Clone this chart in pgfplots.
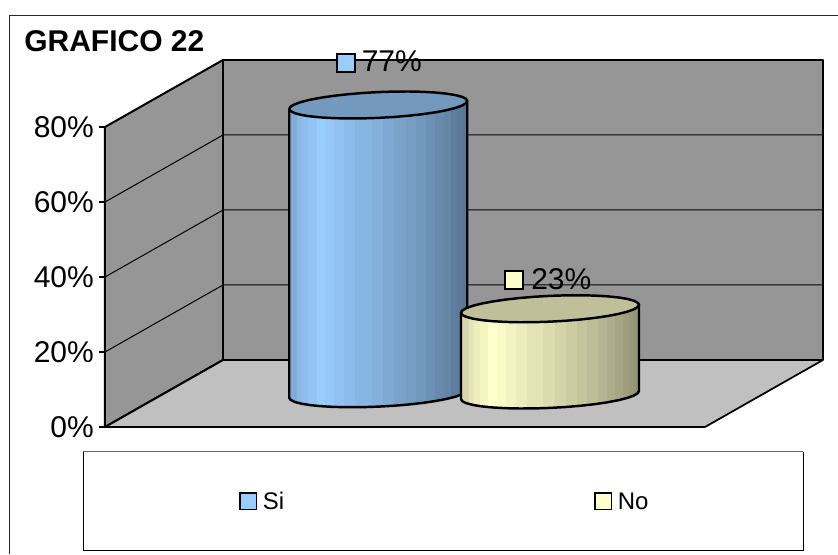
\documentclass[border=0pt]{standalone}
\usepackage{pgfplots}
\usepackage{pgfplotstable}
\usepackage{fontspec}
\setmainfont{Liberation Sans}
\pgfplotsset{compat=1.18}

% One drawing unit is 0.75pt; y is in percent, 1 percent = 3.75 units.
\newcommand{\unitpt}{0.75pt}
\definecolor{wallgray}{HTML}{969696}
\definecolor{floorgray}{HTML}{C0C0C0}
\definecolor{siblue}{HTML}{99CCFF}
\definecolor{sitop}{HTML}{7399BF}
\definecolor{noyellow}{HTML}{FFFFCC}
\definecolor{notop}{HTML}{BFBF99}

% Vertical facets of a cylinder, from the left edge to the right edge
\newcommand{\facetcolors}[2]{%
  \colorlet{#1a}{#2!84!black}\colorlet{#1b}{#2!90!black}\colorlet{#1c}{#2!93!black}%
  \colorlet{#1d}{#2!96!black}\colorlet{#1e}{#2}\colorlet{#1f}{#2!98!black}%
  \colorlet{#1g}{#2!95!black}\colorlet{#1h}{#2!92!black}\colorlet{#1i}{#2!89!black}%
  \colorlet{#1j}{#2!86!black}\colorlet{#1k}{#2!83!black}\colorlet{#1l}{#2!80!black}%
  \colorlet{#1m}{#2!77!black}\colorlet{#1n}{#2!74!black}\colorlet{#1o}{#2!71!black}%
  \colorlet{#1p}{#2!68!black}\colorlet{#1q}{#2!65!black}\colorlet{#1r}{#2!62!black}%
  \colorlet{#1s}{#2!60!black}\colorlet{#1t}{#2!58!black}}
\facetcolors{si}{siblue}
\facetcolors{no}{noyellow}

\newcommand{\declarefacets}[1]{%
  \pgfdeclarehorizontalshading{#1body}{100bp}{%
    color(0bp)=(#1a); color(27.08bp)=(#1a);
    color(27.09bp)=(#1b); color(28.49bp)=(#1b);
    color(28.50bp)=(#1c); color(30.19bp)=(#1c);
    color(30.20bp)=(#1d); color(32.55bp)=(#1d);
    color(32.56bp)=(#1e); color(34.91bp)=(#1e);
    color(34.92bp)=(#1f); color(37.55bp)=(#1f);
    color(37.56bp)=(#1g); color(40.28bp)=(#1g);
    color(40.29bp)=(#1h); color(43.40bp)=(#1h);
    color(43.41bp)=(#1i); color(47.92bp)=(#1i);
    color(47.93bp)=(#1j); color(51.23bp)=(#1j);
    color(51.24bp)=(#1k); color(54.25bp)=(#1k);
    color(54.26bp)=(#1l); color(57.55bp)=(#1l);
    color(57.56bp)=(#1m); color(60.38bp)=(#1m);
    color(60.39bp)=(#1n); color(63.21bp)=(#1n);
    color(63.22bp)=(#1o); color(65.75bp)=(#1o);
    color(65.76bp)=(#1p); color(68.21bp)=(#1p);
    color(68.22bp)=(#1q); color(70.28bp)=(#1q);
    color(70.29bp)=(#1r); color(71.98bp)=(#1r);
    color(71.99bp)=(#1s); color(73.58bp)=(#1s);
    color(73.59bp)=(#1t); color(100bp)=(#1t)}}
\declarefacets{si}
\declarefacets{no}

% Outline of a cylinder's side: h=0 on the base, h=1 on the top; (u,w) on the unit ellipse
\pgfplotstableread{
u w h
-1 0 1
-1 0 0
-0.9848 -0.1736 0
-0.9397 -0.3420 0
-0.8660 -0.5 0
-0.7660 -0.6428 0
-0.6428 -0.7660 0
-0.5 -0.8660 0
-0.3420 -0.9397 0
-0.1736 -0.9848 0
0 -1 0
0.1736 -0.9848 0
0.3420 -0.9397 0
0.5 -0.8660 0
0.6428 -0.7660 0
0.7660 -0.6428 0
0.8660 -0.5 0
0.9397 -0.3420 0
0.9848 -0.1736 0
1 0 0
1 0 1
}\sideoutline

% Outline of a cylinder's top face
\pgfplotstableread{
u w h
-1 0 1
-0.9848 0.1736 1
-0.9397 0.3420 1
-0.8660 0.5 1
-0.7660 0.6428 1
-0.6428 0.7660 1
-0.5 0.8660 1
-0.3420 0.9397 1
-0.1736 0.9848 1
0 1 1
0.1736 0.9848 1
0.3420 0.9397 1
0.5 0.8660 1
0.6428 0.7660 1
0.7660 0.6428 1
0.8660 0.5 1
0.9397 0.3420 1
0.9848 0.1736 1
1 0 1
0.9848 -0.1736 1
0.9397 -0.3420 1
0.8660 -0.5 1
0.7660 -0.6428 1
0.6428 -0.7660 1
0.5 -0.8660 1
0.3420 -0.9397 1
0.1736 -0.9848 1
0 -1 1
-0.1736 -0.9848 1
-0.3420 -0.9397 1
-0.5 -0.8660 1
-0.6428 -0.7660 1
-0.7660 -0.6428 1
-0.8660 -0.5 1
-0.9397 -0.3420 1
-0.9848 -0.1736 1
}\topoutline

% \cylinder{centre x}{base y}{value in percent}{shading}{top colour}
\newcommand{\cylinder}[5]{%
  \addplot[shade, shading=#4, draw=black, line width=1.85pt, line join=round, mark=none]
    table[x expr={#1+89*\thisrow{u}},
          y expr={#2+\thisrow{h}*#3+(4*\thisrow{u}+12.9*\thisrow{w})/3.75}] {\sideoutline} -- cycle;
  \addplot[fill=#5, draw=black, line width=1.85pt, line join=round, mark=none]
    table[x expr={#1+89*\thisrow{u}},
          y expr={#2+\thisrow{h}*#3+(4*\thisrow{u}+12.9*\thisrow{w})/3.75}] {\topoutline} -- cycle;
}

\begin{document}
\begin{tikzpicture}[x=\unitpt,y=\unitpt]
\begin{axis}[
  scale only axis,
  width=538.5pt, height=225pt,
  xmin=105, xmax=823, ymin=0, ymax=80,
  clip=false,
  axis on top,
  axis x line=none,
  axis y line=left,
  axis line style={-, line width=1.5pt, black},
  ytick={0,20,40,60,80},
  yticklabels={0\%,20\%,40\%,60\%,80\%},
  y tick label style={font=\fontsize{22.5}{24}\selectfont, inner sep=0pt, xshift=-3.7pt},
  major tick length=4.5pt,
  tick style={line width=0.8pt, black},
  tick align=outside,
]
% chart frame, open at the right and at the bottom
\draw[color=black!85, line width=1.3pt] (axis cs:9.5,-33.87) -- (axis cs:9.5,109.73) -- (axis cs:838,109.73);
\node[anchor=base west, inner sep=0pt, font=\fontsize{22.5}{24}\selectfont\bfseries]
  at (axis cs:24,100) {GRAFICO 22};

% walls and floor
\addplot[fill=wallgray, draw=black, line width=1.5pt, line join=round, mark=none]
  coordinates {(105,0) (105,80) (223,97.87) (223,17.87)} -- cycle;
\addplot[fill=floorgray, draw=none, mark=none]
  coordinates {(105,0) (223,17.87) (823,17.87) (705,0)} -- cycle;
\addplot[draw=black, line width=0.8pt, mark=none] coordinates {(105,0) (705,0)};
\addplot[draw=black, line width=1.3pt, mark=none] coordinates {(705,0) (823,17.87)};
\addplot[draw=black, line width=1.5pt, mark=none] coordinates {(105,0) (223,17.87)};
\addplot[fill=wallgray, draw=black, line width=1.5pt, line join=round, mark=none]
  coordinates {(223,17.87) (223,97.87) (823,97.87) (823,17.87)} -- cycle;

% gridlines across the side wall and the back wall
\addplot[draw=black, line width=0.75pt, mark=none] coordinates {(105,20) (223,37.87) (823,37.87)};
\addplot[draw=black, line width=0.75pt, mark=none] coordinates {(105,40) (223,57.87) (823,57.87)};
\addplot[draw=black, line width=0.75pt, mark=none] coordinates {(105,60) (223,77.87) (823,77.87)};

% the two cylinders
\cylinder{378.25}{8.87}{77}{sibody}{sitop}
\cylinder{550}{8.53}{23}{nobody}{notop}

% value labels
\draw[fill=siblue, draw=black, line width=1.5pt] (axis cs:337,99.4) rectangle (axis cs:355,94.6);
\node[anchor=base west, inner sep=0pt, font=\fontsize{22.5}{24}\selectfont] at (axis cs:361.5,94.67) {77\%};
\draw[fill=noyellow, draw=black, line width=1.5pt] (axis cs:505,41.7) rectangle (axis cs:523,36.9);
\node[anchor=base west, inner sep=0pt, font=\fontsize{22.5}{24}\selectfont] at (axis cs:531,36.8) {23\%};

% legend box
\draw[draw=black!60, line width=0.8pt] (axis cs:83,-6.6) -- (axis cs:803,-6.6);
\draw[draw=black, line width=0.7pt] (axis cs:803,-6.6) -- (axis cs:803,-32.8) -- (axis cs:83,-32.8) -- (axis cs:83,-6.6);
\draw[fill=siblue, draw=black, line width=1.3pt] (axis cs:240,-17.6) rectangle (axis cs:256.5,-22);
\node[anchor=base west, inner sep=0pt, font=\fontsize{18}{20}\selectfont] at (axis cs:262.5,-22.1) {Si};
\draw[fill=noyellow, draw=black, line width=1.3pt] (axis cs:595,-17.6) rectangle (axis cs:611.5,-22);
\node[anchor=base west, inner sep=0pt, font=\fontsize{18}{20}\selectfont] at (axis cs:617.5,-22.1) {No};
\end{axis}
% page area: 838 by 554 units
\pgfresetboundingbox
\path[use as bounding box] (-105,-127) rectangle (733,427);
\end{tikzpicture}
\end{document}
